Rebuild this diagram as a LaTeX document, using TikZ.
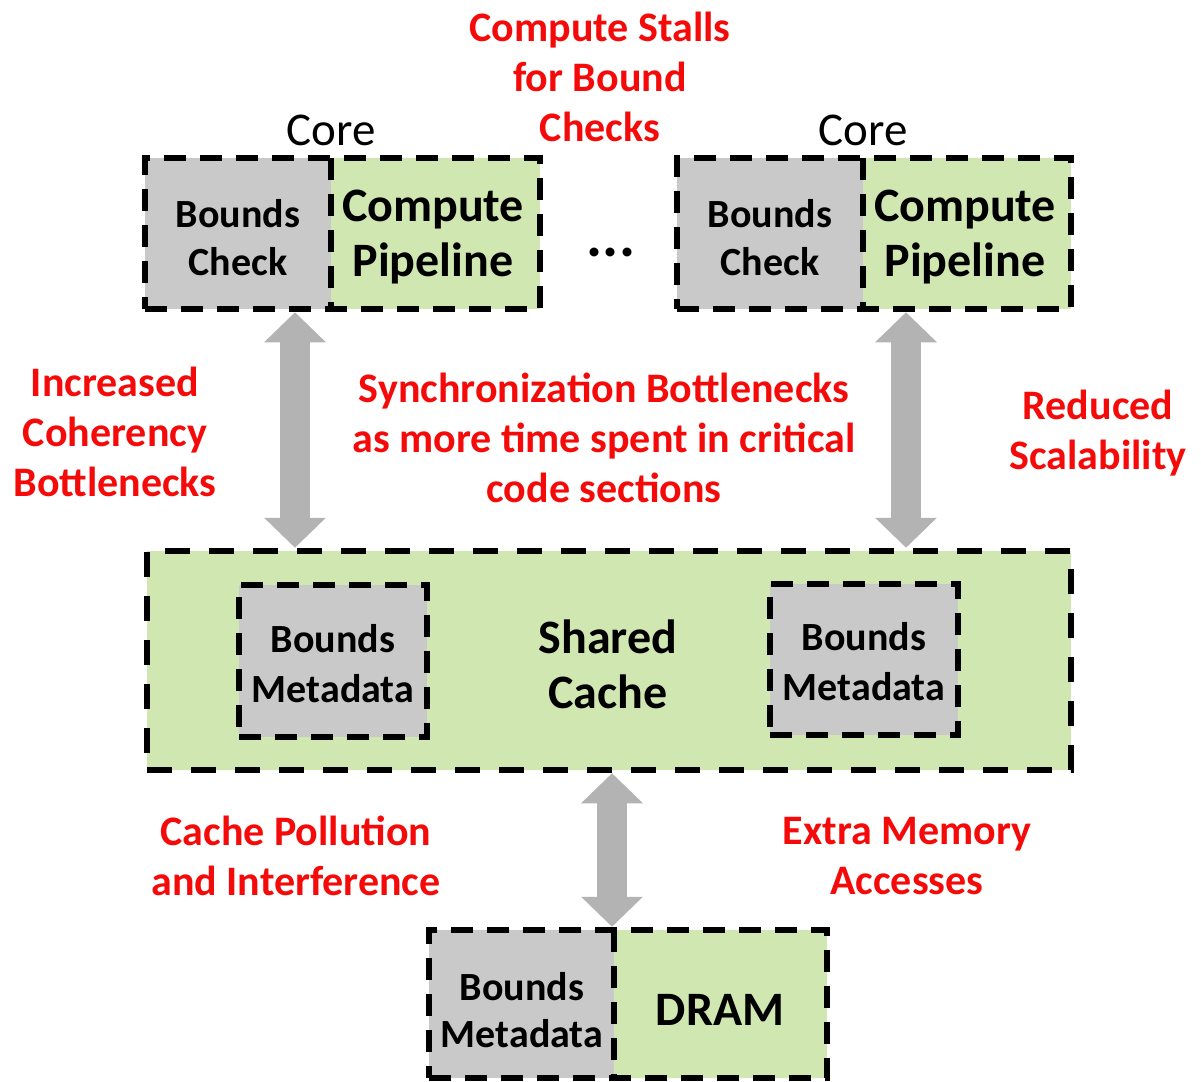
\documentclass[tikz,border=0pt]{standalone}
\usepackage{fontspec}
\setmainfont{Carlito}
\usetikzlibrary{arrows.meta}
\definecolor{boxgray}{HTML}{C9C9C9}
\definecolor{boxgreen}{HTML}{D0E7B2}
\definecolor{arrowgray}{HTML}{B3B3B3}
\definecolor{lblred}{HTML}{F50A0A}
\begin{document}
\begin{tikzpicture}[x=1pt,y=-1pt,
  fillbox/.style={rectangle, inner sep=0pt, draw=none},
  grayfill/.style={fillbox, fill=boxgray},
  greenfill/.style={fillbox, fill=boxgreen},
  dashbox/.style={rectangle, inner sep=0pt, draw=black, line width=6.5pt, dash pattern=on 22pt off 14pt},
  dashline/.style={draw=black, line width=6.5pt, dash pattern=on 22pt off 14pt},
  redlbl/.style={text=lblred, font=\fontsize{42}{50}\selectfont\bfseries, align=center, inner sep=0pt},
  smalltxt/.style={font=\fontsize{40}{48}\selectfont\bfseries, align=center, inner sep=0pt},
  bigtxt/.style={font=\fontsize{48}{55}\selectfont\bfseries, align=center, inner sep=0pt},
  corelbl/.style={font=\fontsize{47}{55}\selectfont, inner sep=0pt},
  bigarrow/.style={draw=arrowgray, line width=30pt, {Triangle[width=60pt,length=30pt]}-{Triangle[width=60pt,length=30pt]}}
]
\useasboundingbox (0,0) rectangle (1201,1081);

% Core 1
\node[grayfill, minimum width=186pt, minimum height=151pt] (c1g) at (238,233.5) {};
\node[greenfill, minimum width=209pt, minimum height=151pt] (c1p) at (435.5,233.5) {};
\node[dashbox, minimum width=395pt, minimum height=151pt] (core1) at (342.5,233.5) {};
\draw[dashline] (c1g.north east) -- (c1g.south east);
\node[smalltxt] (c1gt) at (238,238) {Bounds\\Check};
\node[bigtxt] (c1pt) at (433,237) {Compute\\Pipeline};
\node[corelbl] (core1l) at (331,130) {Core};

% Core 2
\node[grayfill, minimum width=186pt, minimum height=151pt] (c2g) at (770,233.5) {};
\node[greenfill, minimum width=208pt, minimum height=151pt] (c2p) at (967,233.5) {};
\node[dashbox, minimum width=394pt, minimum height=151pt] (core2) at (874,233.5) {};
\draw[dashline] (c2g.north east) -- (c2g.south east);
\node[smalltxt] (c2gt) at (770,238) {Bounds\\Check};
\node[bigtxt] (c2pt) at (965,237) {Compute\\Pipeline};
\node[corelbl] (core2l) at (863,130) {Core};

\node[font=\fontsize{60}{60}\selectfont\bfseries, inner sep=0pt] (dots) at (611,252) {...};

% Shared cache
\node[greenfill, minimum width=924pt, minimum height=219pt] (cachef) at (609,660.5) {};
\node[dashbox, dash pattern=on 25pt off 19pt, minimum width=924pt, minimum height=219pt] (cache) at (609,660.5) {};
\node[grayfill, minimum width=188pt, minimum height=152pt] (bm1f) at (333,661) {};
\node[dashbox, minimum width=188pt, minimum height=152pt] (bm1) at (333,661) {};
\node[smalltxt, font=\fontsize{40}{50}\selectfont\bfseries] (bm1t) at (333,664) {Bounds\\Metadata};
\node[grayfill, minimum width=188pt, minimum height=151pt] (bm2f) at (864,659.5) {};
\node[dashbox, minimum width=188pt, minimum height=151pt] (bm2) at (864,659.5) {};
\node[smalltxt, font=\fontsize{40}{50}\selectfont\bfseries] (bm2t) at (864,662) {Bounds\\Metadata};
\node[bigtxt] (cachet) at (608,664) {Shared\\Cache};

% DRAM
\node[grayfill, minimum width=185pt, minimum height=148pt] (dg) at (521.5,1004) {};
\node[greenfill, minimum width=213pt, minimum height=148pt] (dd) at (720.5,1004) {};
\node[dashbox, minimum width=398pt, minimum height=148pt] (dram) at (628,1004) {};
\draw[dashline] (dg.north east) -- (dg.south east);
\node[smalltxt, font=\fontsize{40}{47}\selectfont\bfseries] (dgt) at (522,1010) {Bounds\\Metadata};
\node[bigtxt] (ddt) at (720,1010) {DRAM};

% Arrows
\coordinate (ax1) at (295,0);
\coordinate (ax2) at (906,0);
\coordinate (ax3) at (612,0);
\draw[bigarrow] (ax1 |- core1.south) -- (ax1 |- cache.north);
\draw[bigarrow] (ax2 |- core2.south) -- (ax2 |- cache.north);
\draw[bigarrow] (ax3 |- cache.south) -- (ax3 |- dram.north);

% Red labels
\node[redlbl] (l1) at (600,77) {Compute Stalls\\for Bound\\Checks};
\node[redlbl] (l2) at (115,432) {Increased\\Coherency\\Bottlenecks};
\node[redlbl] (l3) at (604,438) {Synchronization Bottlenecks\\as more time spent in critical\\code sections};
\node[redlbl] (l4) at (1098,433) {Reduced\\Scalability};
\node[redlbl] (l5) at (296,856) {Cache Pollution\\and Interference};
\node[redlbl] (l6) at (907,856) {Extra Memory\\Accesses};
\end{tikzpicture}
\end{document}
